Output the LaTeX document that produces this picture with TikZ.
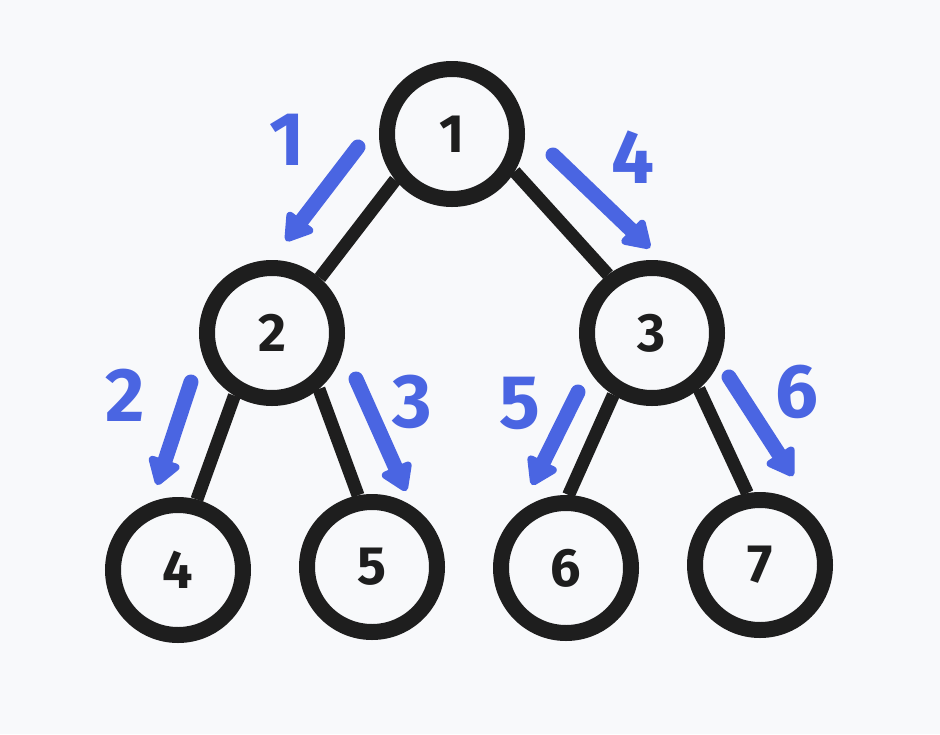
\documentclass[tikz,border=0pt]{standalone}
\usepackage{fontspec}
\setmainfont{Fira Sans}
\usetikzlibrary{arrows.meta}

\definecolor{ink}{HTML}{1E1E1E}
\definecolor{stroke}{HTML}{4A65E2}
\definecolor{paper}{HTML}{F8F9FB}

\tikzset{
  treenode/.style={circle,draw=ink,line width=16pt,minimum size=130pt,
    inner sep=0pt,fill=paper,text=ink,font=\fontsize{54}{54}\selectfont\bfseries},
  order/.style={draw=stroke,line width=15pt,line cap=round,
    -{Triangle[length=30pt,width=36pt,round]}},
  orderlabel/.style={text=stroke,font=\fontsize{76}{76}\selectfont\bfseries}
}

\begin{document}
\begin{tikzpicture}[x=1pt,y=-1pt]

        \fill[paper] (0,0) rectangle (940,734);
        \useasboundingbox (0,0) rectangle (940,734);

        \begin{scope}[every node/.style={treenode}]
          \node (1) at (452,134) {1};
          \node (2) at (272,333) {2};
          \node (3) at (652,333) {3};
          \node (4) at (178,570) {4};
          \node (5) at (372,567) {5};
          \node (6) at (566,568) {6};
          \node (7) at (760,565) {7};
        \end{scope}

        \begin{scope}[line width=13pt,draw=ink]
          \path[draw] (1.219) -- (2.49);
          \path[draw] (1.-31) -- (3.127);
          \path[draw] (2.239) -- (4.75);
          \path[draw] (2.-50) -- (5.101);
          \path[draw] (3.238) -- (6.88);
          \path[draw] (3.-50) -- (7.100);
        \end{scope}

        % visiting order
        \coordinate (s1) at (358,147);
        \coordinate (e1) at (286,241);
        \coordinate (s2) at (191,382);
        \coordinate (e2) at (157,485);
        \coordinate (s3) at (356,379);
        \coordinate (e3) at (406,491);
        \coordinate (s4) at (553,155);
        \coordinate (e4) at (650,248);
        \coordinate (s5) at (578,392);
        \coordinate (e5) at (532,485);
        \coordinate (s6) at (729,377);
        \coordinate (e6) at (793,476);

        \begin{scope}[every path/.style={order}]
          \draw (s1) -- (e1);
          \draw (s2) -- (e2);
          \draw (s3) -- (e3);
          \draw (s4) -- (e4);
          \draw (s5) -- (e5);
          \draw (s6) -- (e6);
        \end{scope}

        \begin{scope}[every node/.style={orderlabel}]
          \node (l1) at (287,140) {1};
          \node (l2) at (125,395) {2};
          \node (l3) at (412,402) {3};
          \node (l4) at (633,157) {4};
          \node (l5) at (520,403) {5};
          \node (l6) at (797,392) {6};
        \end{scope}

\end{tikzpicture}
\end{document}
